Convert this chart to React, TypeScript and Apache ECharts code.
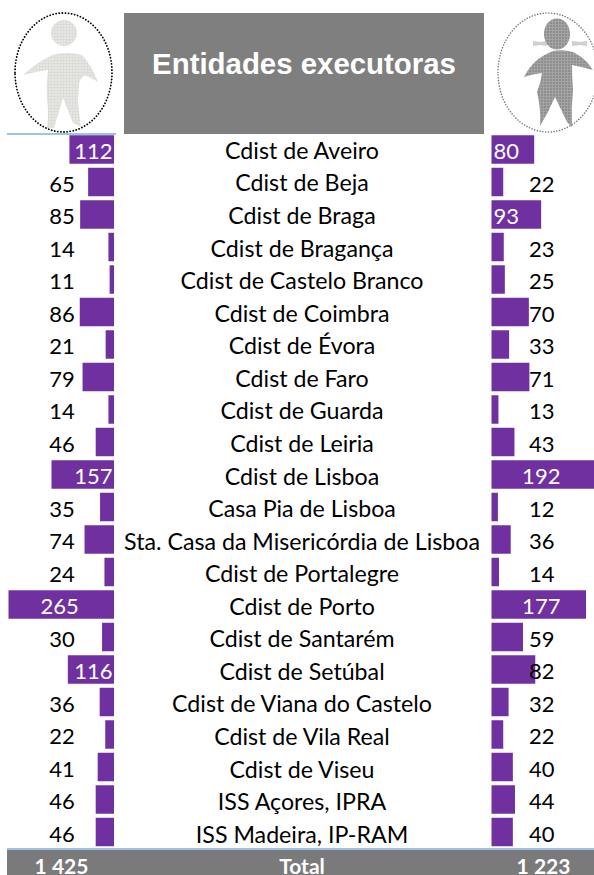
import React, { useEffect, useRef } from "react";
import * as echarts from "echarts";

const categories = [
  "Cdist de Aveiro", "Cdist de Beja", "Cdist de Braga", "Cdist de Bragança", "Cdist de Castelo Branco",
  "Cdist de Coimbra", "Cdist de Évora", "Cdist de Faro", "Cdist de Guarda", "Cdist de Leiria", "Cdist de Lisboa",
  "Casa Pia de Lisboa", "Sta. Casa da Misericórdia de Lisboa", "Cdist de Portalegre", "Cdist de Porto",
  "Cdist de Santarém", "Cdist de Setúbal", "Cdist de Viana do Castelo", "Cdist de Vila Real", "Cdist de Viseu",
  "ISS Açores, IPRA", "ISS Madeira, IP-RAM",
];
const leftValues = [112, 65, 85, 14, 11, 86, 21, 79, 14, 46, 157, 35, 74, 24, 265, 30, 116, 36, 22, 41, 46, 46];
const rightValues = [80, 22, 93, 23, 25, 70, 33, 71, 13, 43, 192, 12, 36, 14, 177, 59, 82, 32, 22, 40, 44, 40];
const leftTotal = "1 425";
const rightTotal = "1 223";
const totalLabel = "Total";
const title = "Entidades executoras";

const PURPLE = "#7030A0";
const FONT = "Lato";

echarts.graphic.registerShape(
  "figBoy",
  echarts.graphic.extendPath(
    "M52 55 Q67 51 82 55 Q92 66 98 82 Q91 78 85 75 Q80 78 79 84 L78 100 Q79 114 81 127 L73 123 L63 98 L54 128 L47 128 Q49 112 47 100 Q46 84 48 70 Q34 72 23 75 Q36 63 52 55 Z M64 20 A13 13 0 1 1 63.9 20 Z",
    {}
  )
);
echarts.graphic.registerShape(
  "figGirl",
  echarts.graphic.extendPath(
    "M553 51 Q563 49 573 52 Q581 56 587 62 L593 70 Q582 67 572 65 Q572 78 573 90 Q571 108 572 127 L567 122 L555 97 L548 112 L540 126 Q541 108 537 92 Q541 82 542 73 Q533 74 524 77 Q529 67 537 60 Q545 54 553 51 Z M557 18.5 C565 18.5 570 26 570 34 C570 42 565 49.5 557 49.5 C549 49.5 544 42 544 34 C544 26 549 18.5 557 18.5 Z",
    {}
  )
);
echarts.graphic.registerShape(
  "figBows",
  echarts.graphic.extendPath(
    "M533 41 L540 42 L547 41 L547 46 L540 45 L533 46 Z M572 41 L580 42 L587 41 L587 46 L580 45 L572 46 Z",
    {}
  )
);

function hatch(base: string, line: string) {
  const c = document.createElement("canvas");
  c.width = 3;
  c.height = 3;
  const g = c.getContext("2d")!;
  g.fillStyle = base;
  g.fillRect(0, 0, 3, 3);
  g.fillStyle = line;
  g.fillRect(0, 0, 3, 1);
  g.fillRect(0, 0, 1, 3);
  return { image: c, repeat: "repeat" as const };
}

export default function App() {
  const ref = useRef<HTMLDivElement>(null);
  useEffect(() => {
    const chart = echarts.init(ref.current!, undefined, { renderer: "svg" });
    const leftPoints = leftValues.map((v, i) => {
      const white = v === 112 || v === 157 || v === 116 || v === 265;
      return { value: [v === 265 ? 87 : white ? 2.5 : 97, i, v], label: { color: white ? "#fff" : "#000" } };
    });
    const rightPoints = rightValues.map((v, i) => {
      const inLeft = v === 80 || v === 93;
      const big = v === 192 || v === 177;
      return {
        value: [inLeft ? 2.7 : big ? 130 : 119, i, v],
        label: { color: inLeft || big ? "#fff" : "#000", position: inLeft ? "right" : "left" },
      };
    });
    const numLabel = {
      show: true,
      position: "left",
      distance: 0,
      fontFamily: FONT,
      fontSize: 22,
      opacity: 1,
      offset: [0, 1],
      formatter: (p: any) => String(p.value[2]),
    };
    chart.setOption({
      animation: false,
      grid: [
        { left: 8.5, width: 105.5, top: 133.25, height: 715 },
        { left: 491.5, width: 107, top: 133.25, height: 715 },
        { left: 302, width: 1, top: 133.6, height: 716.4 },
      ],
      xAxis: [
        { gridIndex: 0, type: "value", inverse: true, min: 0, max: 265, show: false },
        { gridIndex: 1, type: "value", min: 0, max: 192, show: false },
        { gridIndex: 2, type: "value", min: 0, max: 1, show: false },
      ],
      yAxis: [
        { gridIndex: 0, type: "category", inverse: true, data: categories, show: false },
        { gridIndex: 1, type: "category", inverse: true, data: categories, show: false },
        {
          gridIndex: 2,
          type: "category",
          inverse: true,
          data: categories,
          position: "left",
          axisLine: { show: false, onZero: false },
          axisTick: { show: false },
          splitLine: { show: false },
          axisLabel: {
            show: true,
            interval: 0,
            align: "center",
            margin: 0,
            color: "#000",
            fontFamily: FONT,
            fontSize: 23.2,
          },
        },
      ],
      series: [
        {
          type: "bar",
          xAxisIndex: 0,
          yAxisIndex: 0,
          data: leftValues,
          barWidth: 28.5,
          itemStyle: { color: PURPLE },
        },
        {
          type: "bar",
          xAxisIndex: 1,
          yAxisIndex: 1,
          data: rightValues,
          barWidth: 28.5,
          itemStyle: { color: PURPLE },
        },
        {
          type: "scatter",
          xAxisIndex: 0,
          yAxisIndex: 0,
          symbolSize: 1,
          itemStyle: { color: "transparent", opacity: 1 },
          label: numLabel,
          data: leftPoints,
          z: 5,
        },
        {
          type: "scatter",
          xAxisIndex: 1,
          yAxisIndex: 1,
          symbolSize: 1,
          itemStyle: { color: "transparent", opacity: 1 },
          label: numLabel,
          data: rightPoints,
          z: 5,
        },
      ],
      graphic: [
        { type: "rect", shape: { x: 124, y: 13, width: 360, height: 121 }, style: { fill: "#7F7F7F" } },
        {
          type: "text",
          x: 304,
          y: 63,
          style: {
            text: title,
            fill: "#fff",
            font: "bold 29.4px 'Liberation Sans'",
            align: "center",
            verticalAlign: "middle",
          },
        },
        {
          type: "ellipse",
          shape: { cx: 63.5, cy: 72.5, rx: 48.5, ry: 59.5 },
          style: { fill: "#fff", stroke: "#000", lineWidth: 1.8, lineDash: [0.1, 3], lineCap: "round" },
        },
        { type: "figBoy", style: { fill: hatch("#E6E6E2", "#DCDCD8") } },
        {
          type: "ellipse",
          shape: { cx: 548, cy: 72.5, rx: 50, ry: 59.5 },
          style: { fill: "#fff", stroke: "#777", lineWidth: 1.5, lineDash: [0.1, 2.7], lineCap: "round" },
        },
        { type: "figBows", style: { fill: "#D0D0D0" } },
        { type: "figGirl", style: { fill: hatch("#8E8E8E", "#A4A4A4") } },
        { type: "rect", shape: { x: 7, y: 133, width: 109, height: 2 }, style: { fill: "#9DC3E6" } },
        { type: "rect", shape: { x: 7, y: 850, width: 587, height: 25 }, style: { fill: "#7A7A7A" } },
        { type: "rect", shape: { x: 7, y: 848, width: 587, height: 2 }, style: { fill: "#9DC3E6" } },
        ...[
          [61.5, leftTotal],
          [302, totalLabel],
          [543.5, rightTotal],
        ].map(([x, t]) => ({
          type: "text",
          x,
          y: 865,
          style: {
            text: t,
            fill: "#fff",
            font: `bold 21px ${FONT}`,
            lineHeight: 19,
            align: "center",
            verticalAlign: "middle",
          },
        })),
      ],
    });
    return () => chart.dispose();
  }, []);
  return <div ref={ref} style={{ position: "absolute", left: 0, top: 0, width: 594, height: 875 }} />;
}
